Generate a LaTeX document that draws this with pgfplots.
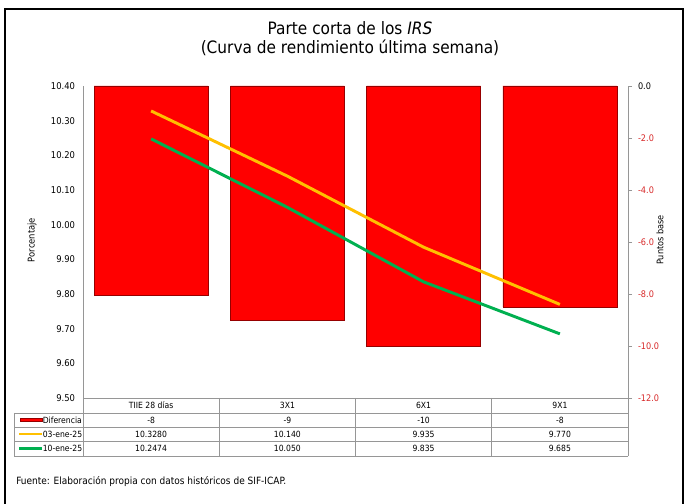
\documentclass[border=0pt]{standalone}
\usepackage{pgfplots}
\pgfplotsset{compat=1.18}
\usepackage{fontspec}
\setmainfont{DejaVu Sans Condensed}
\definecolor{barred}{RGB}{255,0,0}
\definecolor{baredge}{RGB}{150,0,0}
\definecolor{lineyel}{RGB}{255,192,0}
\definecolor{linegrn}{RGB}{0,176,80}
\definecolor{negred}{RGB}{215,40,40}
\definecolor{gridgray}{RGB}{150,150,150}
\begin{document}
\begin{tikzpicture}
\useasboundingbox (0,0) rectangle (516pt,377.25pt);
% bars on secondary (right) axis
\begin{axis}[
  at={(62.25pt,78.75pt)}, anchor=south west,
  width=408.75pt, height=234pt, scale only axis,
  xmin=-0.5, xmax=3.5, ymin=-12, ymax=0,
  axis x line=none,
  axis y line*=right,
  y axis line style={gridgray},
  ytick={-12,-10,-8,-6,-4,-2,0},
  yticklabels={\textcolor{negred}{-12.0},\textcolor{negred}{-10.0},\textcolor{negred}{-8.0},\textcolor{negred}{-6.0},\textcolor{negred}{-4.0},\textcolor{negred}{-2.0},0.0},
  yticklabel style={font=\fontsize{6.8}{7}\selectfont, anchor=west, xshift=1pt},
  tick align=outside, major tick length=3pt,
  every tick/.style={gridgray},
  ybar, bar width=85.5pt,
  clip=false,
]
\addplot[fill=barred, draw=baredge, line width=0.5pt] coordinates {(0,-8.06) (1,-9.0) (2,-10.0) (3,-8.5)};
\end{axis}
% lines on primary (left) axis
\begin{axis}[
  at={(62.25pt,78.75pt)}, anchor=south west,
  width=408.75pt, height=234pt, scale only axis,
  xmin=-0.5, xmax=3.5, ymin=9.5, ymax=10.4,
  axis x line=none,
  axis y line*=left,
  y axis line style={gridgray},
  ytick={9.5,9.6,...,10.41},
  major tick length=0pt,
  yticklabel style={font=\fontsize{7}{7}\selectfont, xshift=-2.5pt, /pgf/number format/fixed, /pgf/number format/precision=2, /pgf/number format/fixed zerofill, /pgf/number format/assume math mode=true},
  clip=false,
]
\addplot[lineyel, line width=2.2pt, mark=none] coordinates {(0,10.3280) (1,10.140) (2,9.935) (3,9.770)};
\addplot[linegrn, line width=2.2pt, mark=none] coordinates {(0,10.2474) (1,10.050) (2,9.835) (3,9.685)};
\end{axis}
\begin{scope}[x=0.75pt, y=-0.75pt, shift={(0,377.25pt)}]
  % frame
  \draw[black, line width=1pt] (5,9) rectangle (683,540);
  % title
  \node[font=\fontsize{12.8}{14}\selectfont, inner sep=0pt] at (350,28.5) {Parte corta de los \textit{IRS}};
  \node[font=\fontsize{12.8}{14}\selectfont, inner sep=0pt] at (350,47.5) {(Curva de rendimiento última semana)};
  % axis titles
  \node[rotate=90, font=\fontsize{7}{7}\selectfont] at (32,240) {Porcentaje};
  \node[rotate=90, font=\fontsize{6.8}{7}\selectfont] at (660,240) {Puntos base};
  % data table
  \draw[gridgray, line width=0.6pt] (83,398) -- (628,398);
  \foreach \yy in {413,427,441,456} {\draw[gridgray, line width=0.6pt] (14,\yy) -- (628,\yy);}
  \foreach \xx in {83,219.25,355.5,491.75,628} {\draw[gridgray, line width=0.6pt] (\xx,398) -- (\xx,456);}
  \draw[gridgray, line width=0.6pt] (14,413) -- (14,456);
  \begin{scope}[every node/.style={font=\fontsize{6.4}{7}\selectfont, inner sep=0pt}]
    \node at (151.1,405.5) {TIIE 28 días};
    \node at (287.4,405.5) {3X1};
    \node at (423.6,405.5) {6X1};
    \node at (559.9,405.5) {9X1};
    \node at (151.1,420) {-8};
    \node at (287.4,420) {-9};
    \node at (423.6,420) {-10};
    \node at (559.9,420) {-8};
    \node at (151.1,434) {10.3280};
    \node at (287.4,434) {10.140};
    \node at (423.6,434) {9.935};
    \node at (559.9,434) {9.770};
    \node at (151.1,448.5) {10.2474};
    \node at (287.4,448.5) {10.050};
    \node at (423.6,448.5) {9.835};
    \node at (559.9,448.5) {9.685};
    \fill[barred] (20,418.5) rectangle (42,421.5);
    \draw[baredge, line width=0.3pt] (20,418.5) rectangle (42,421.5);
    \node[anchor=west] at (42.5,420) {Diferencia};
    \draw[lineyel, line width=2.2pt] (19,434) -- (42,434);
    \node[anchor=west] at (42.5,434) {03-ene-25};
    \draw[linegrn, line width=2.2pt] (19,448.5) -- (42,448.5);
    \node[anchor=west] at (42.5,448.5) {10-ene-25};
  \end{scope}
  \node[anchor=west, font=\fontsize{7.5}{8}\selectfont, inner sep=0pt] at (16,482) {Fuente: Elaboración propia con datos históricos de SIF-ICAP.};
\end{scope}
\end{tikzpicture}
\end{document}
